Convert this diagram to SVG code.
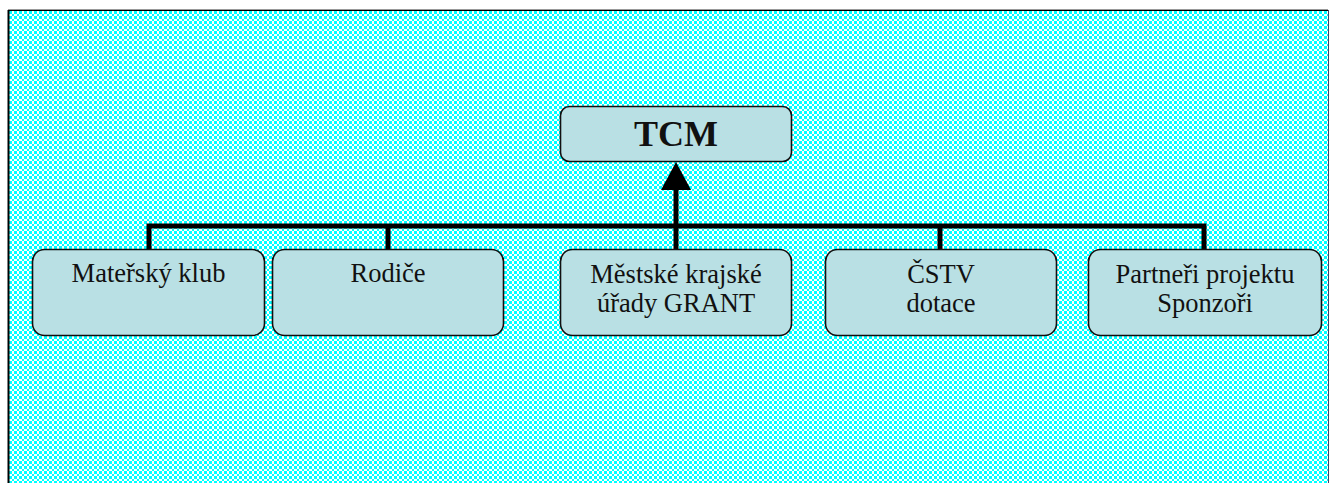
<svg xmlns="http://www.w3.org/2000/svg" width="1336" height="483" viewBox="0 0 1336 483">
<defs>
<pattern id="chk" patternUnits="userSpaceOnUse" x="9" y="11" width="5" height="5">
<rect width="5" height="5" fill="#ffffff"/>
<rect x="0" y="0" width="3" height="3" fill="#00ffff"/>
<rect x="3" y="3" width="2" height="2" fill="#00ffff"/>
</pattern>
<style>
.box{fill:#b9e0e4;stroke:#111;stroke-width:1.6}
.t{font-family:"Liberation Serif","Times New Roman",Times,serif;font-size:26.5px;fill:#111;text-anchor:middle}
.tb{font-family:"Liberation Serif","Times New Roman",Times,serif;font-size:36px;font-weight:bold;fill:#111;text-anchor:middle}
.c{stroke:#000;stroke-width:5;fill:none}
</style>
</defs>
<rect x="0" y="0" width="1336" height="483" fill="#ffffff"/>
<rect x="9" y="10" width="1319" height="473" fill="url(#chk)"/>
<line x1="8" y1="9.5" x2="1328" y2="9.5" stroke="#999" stroke-width="1"/>
<line x1="8" y1="10.5" x2="1328" y2="10.5" stroke="#000" stroke-width="1"/>
<line x1="8.5" y1="10" x2="8.5" y2="483" stroke="#000" stroke-width="2"/>
<line x1="1328.5" y1="10" x2="1328.5" y2="483" stroke="#446" stroke-width="1"/>
<g id="connectors">
<path class="c" d="M149,249 V226 H1204 V249"/>
<path class="c" d="M388,249 V226"/>
<path class="c" d="M940,249 V226"/>
<path class="c" d="M676,249 V226"/>
<line class="c" x1="676" y1="226" x2="676" y2="190"/>
<path d="M661,190 L691,190 L676,162 Z" fill="#000"/>
</g>
<g id="tcm">
<rect class="box" x="560.5" y="106.5" width="231" height="55" rx="9"/>
<text class="tb" x="676" y="146">TCM</text>
</g>
<g id="materskyklub">
<rect class="box" x="32.5" y="249.5" width="232" height="86" rx="12"/>
<text class="t" x="148.5" y="282">Mateřský klub</text>
</g>
<g id="rodice">
<rect class="box" x="272.5" y="249.5" width="231" height="86" rx="12"/>
<text class="t" x="388" y="282">Rodiče</text>
</g>
<g id="mestske">
<rect class="box" x="560.5" y="249.5" width="231" height="86" rx="12"/>
<text class="t" x="676" y="283">Městské krajské</text>
<text class="t" x="676" y="312">úřady GRANT</text>
</g>
<g id="cstv">
<rect class="box" x="825.5" y="249.5" width="231" height="86" rx="12"/>
<text class="t" x="941" y="283">ČSTV</text>
<text class="t" x="941" y="312">dotace</text>
</g>
<g id="partneri">
<rect class="box" x="1088.5" y="249.5" width="233" height="86" rx="12"/>
<text class="t" x="1205" y="283">Partneři projektu</text>
<text class="t" x="1205" y="312">Sponzoři</text>
</g>
</svg>
